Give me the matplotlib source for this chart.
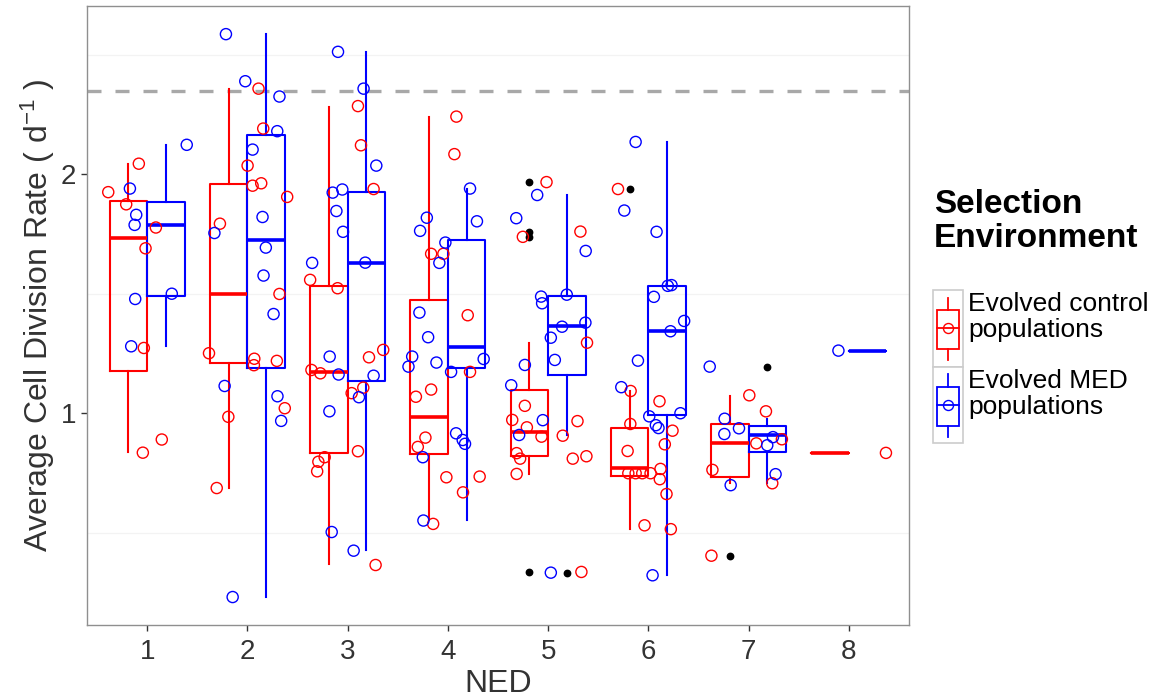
import numpy as np
import matplotlib
matplotlib.use("Agg")
import matplotlib.pyplot as plt
from matplotlib.legend_handler import HandlerBase
from matplotlib.lines import Line2D
from matplotlib.patches import Rectangle

plt.rcParams['font.family'] = ['Liberation Sans', 'DejaVu Sans']
plt.rcParams['mathtext.fontset'] = 'custom'
plt.rcParams['mathtext.rm'] = 'Liberation Sans'
plt.rcParams['mathtext.it'] = 'Liberation Sans:italic'

# ---------------------------------------------------------------- data
ned = [1, 2, 3, 4, 5, 6, 7, 8]
group_labels = ["Evolved control\npopulations", "Evolved MED\npopulations"]
reference_rate = 2.349

# box summaries per NED level (control populations)
ctrl_whislo = [0.838, 0.689, 0.368, 0.553, 0.746, 0.515, 0.710, 0.834]
ctrl_q1     = [1.178, 1.212, 0.834, 0.828, 0.820, 0.738, 0.735, 0.834]
ctrl_med    = [1.733, 1.499, 1.174, 0.986, 0.923, 0.770, 0.876, 0.834]
ctrl_q3     = [1.888, 1.958, 1.533, 1.474, 1.097, 0.940, 0.954, 0.834]
ctrl_whishi = [2.043, 2.357, 2.283, 2.241, 1.293, 1.095, 1.074, 0.834]
ctrl_outliers = [[], [], [], [], [1.967, 1.760, 1.738, 0.336], [1.938], [0.404], []]

# box summaries per NED level (MED populations)
med_whislo = [1.282, 0.233, 0.428, 0.553, 0.909, 0.323, 0.707, 1.262]
med_q1     = [1.492, 1.190, 1.135, 1.190, 1.159, 0.993, 0.838, 1.262]
med_med    = [1.788, 1.725, 1.630, 1.279, 1.365, 1.343, 0.908, 1.262]
med_q3     = [1.884, 2.162, 1.927, 1.725, 1.492, 1.534, 0.947, 1.262]
med_whishi = [2.121, 2.586, 2.512, 1.938, 1.911, 2.134, 0.975, 1.262]
med_outliers = [[], [], [], [], [0.333], [], [1.195], []]

# individual populations (jittered NED position, division rate)
ctrl_x = [0.612, 0.791, 0.917, 1.087, 0.984, 0.967, 0.957, 1.146,
          2.111, 2.158, 2.002, 2.052, 2.138, 2.397, 1.726, 2.320, 1.617, 1.810,
          1.694, 2.069, 2.065, 2.294, 2.373,
          2.626, 2.900, 3.103, 3.133, 3.259, 2.639, 2.728, 3.040, 3.156, 3.213,
          3.355, 2.771, 2.708, 2.696, 3.103, 3.279,
          4.085, 4.065, 3.833, 3.955, 4.198, 3.681, 3.833, 3.776, 3.700, 4.221,
          3.985, 4.317, 4.151, 3.853,
          4.984, 4.748, 5.322, 4.768, 4.642, 4.788, 4.934, 4.686, 4.721, 4.686,
          5.388, 5.293, 5.146, 5.246, 5.382, 5.332,
          5.697, 5.823, 5.820, 5.793, 5.800, 5.873, 5.939, 6.022, 6.111, 6.241,
          6.164, 6.121, 6.114, 6.181, 6.224, 5.962,
          7.007, 7.173, 6.639, 7.077, 7.332, 7.236, 6.629,
          8.370]
ctrl_y = [1.925, 1.874, 2.044, 1.777, 1.690, 1.273, 0.835, 0.890,
          2.358, 2.191, 2.036, 1.952, 1.962, 1.905, 1.793, 1.499, 1.251, 0.985,
          0.687, 1.228, 1.201, 1.219, 1.021,
          1.558, 1.523, 2.285, 2.121, 1.938, 1.181, 1.167, 1.084, 1.107, 1.234,
          1.265, 0.816, 0.797, 0.757, 0.841, 0.365,
          2.241, 2.084, 1.667, 1.667, 1.410, 1.069, 1.099, 0.898, 0.859, 1.173,
          0.732, 0.735, 0.669, 0.537,
          1.967, 1.738, 1.760, 1.031, 0.972, 0.941, 0.902, 0.833, 0.810, 0.746,
          1.295, 0.967, 0.906, 0.810, 0.820, 0.336,
          1.938, 1.093, 0.955, 0.842, 0.749, 0.749, 0.749, 0.749, 1.050, 0.927,
          0.870, 0.767, 0.724, 0.662, 0.515, 0.531,
          1.075, 1.008, 0.763, 0.874, 0.891, 0.707, 0.404,
          0.834]

med_x = [0.828, 0.891, 0.875, 0.881, 1.246, 1.395, 0.841,
         1.786, 1.979, 2.320, 2.298, 2.052, 2.151, 1.671, 2.184, 2.161, 2.261,
         1.773, 1.853, 2.300, 2.337,
         2.904, 3.159, 3.286, 2.851, 2.947, 2.888, 2.954, 2.646, 3.176, 2.821,
         2.910, 2.818, 3.259, 3.113, 2.841, 3.060,
         3.790, 3.723, 3.975, 3.915, 3.716, 4.221, 4.290, 3.803, 3.644, 3.607,
         3.886, 3.750, 3.756, 4.082, 4.148, 4.171, 4.032, 4.357,
         4.891, 4.682, 5.375, 4.930, 4.940, 5.186, 4.632, 4.768, 4.947, 4.711,
         5.139, 5.027, 5.372, 5.067, 5.027,
         5.873, 5.760, 6.082, 6.194, 6.231, 6.055, 5.730, 5.896, 6.221, 6.357,
         6.320, 6.009, 6.075, 6.101, 6.042,
         6.612, 6.761, 6.758, 6.904, 6.821, 7.186, 7.243, 7.269,
         7.896]
med_y = [1.940, 1.830, 1.788, 1.478, 1.500, 2.123, 1.280,
         2.586, 2.389, 2.325, 2.180, 2.103, 1.821, 1.754, 1.693, 1.576, 1.415,
         1.114, 0.231, 1.071, 0.968,
         2.512, 2.358, 2.036, 1.923, 1.936, 1.846, 1.759, 1.629, 1.630, 1.237,
         1.162, 1.008, 1.157, 1.067, 0.503, 0.425,
         1.818, 1.763, 1.714, 1.629, 1.421, 1.940, 1.803, 1.318, 1.237, 1.195,
         1.212, 0.816, 0.551, 0.916, 0.888, 0.872, 1.173, 1.227,
         1.913, 1.816, 1.679, 1.488, 1.460, 1.496, 1.117, 1.202, 0.971, 0.909,
         1.362, 1.316, 1.379, 1.223, 0.333,
         2.135, 1.848, 1.759, 1.533, 1.536, 1.487, 1.109, 1.220, 1.343, 1.386,
         1.000, 0.987, 0.950, 0.938, 0.322,
         1.195, 0.977, 0.913, 0.937, 0.699, 0.866, 0.900, 0.745,
         1.262]

# ---------------------------------------------------------------- styling
RED = "#ff0000"
BLUE = "#0000ff"
TXT = "#333333"
DODGE = 0.1875
BOX_W = 0.375

fig = plt.figure(figsize=(11.57, 6.99), dpi=100)
W, H = 1157, 699
ax = fig.add_axes([87 / W, 1 - 625 / H, (909 - 87) / W, (625 - 5.7) / H])

ax.set_xlim(0.4, 8.6)
ax.set_ylim(0.114, 2.705)

# faint minor grid
for yv in (0.5, 1.5, 2.5):
    ax.axhline(yv, color="#f3f3f3", lw=0.9, zorder=0)

ax.axhline(reference_rate, color="#a8a8a8", lw=2.4, ls=(0, (4.2, 4.2)), zorder=1.5)


def box_stats(lo, q1, med, q3, hi, outl):
    return [dict(whislo=a, q1=b, med=c, q3=d, whishi=e, fliers=np.array(f))
            for a, b, c, d, e, f in zip(lo, q1, med, q3, hi, outl)]


groups = [
    (RED, -DODGE, box_stats(ctrl_whislo, ctrl_q1, ctrl_med, ctrl_q3, ctrl_whishi, ctrl_outliers)),
    (BLUE, DODGE, box_stats(med_whislo, med_q1, med_med, med_q3, med_whishi, med_outliers)),
]
for color, off, stats in groups:
    ax.bxp(stats, positions=[n + off for n in ned], widths=BOX_W,
           showcaps=False, patch_artist=False, manage_ticks=False,
           boxprops=dict(color=color, linewidth=1.5),
           whiskerprops=dict(color=color, linewidth=1.5),
           medianprops=dict(color=color, linewidth=2.6, solid_capstyle="butt"),
           flierprops=dict(marker="o", markerfacecolor="black",
                           markeredgecolor="black", markersize=4.6,
                           linestyle="none"))

ax.scatter(ctrl_x, ctrl_y, s=64, facecolors="none", edgecolors=RED,
           linewidths=1.0, zorder=4)
ax.scatter(med_x, med_y, s=64, facecolors="none", edgecolors=BLUE,
           linewidths=1.0, zorder=4)

# axes decoration
ax.set_xticks(ned)
ax.set_xticklabels([str(n) for n in ned])
ax.set_yticks([1, 2])
ax.set_yticklabels(["1", "2"])
ax.tick_params(axis="both", direction="out", length=4, width=1.0,
               color=TXT, labelcolor=TXT, labelsize=20)
ax.tick_params(axis="x", pad=6)
ax.tick_params(axis="y", pad=4)
for sp in ax.spines.values():
    sp.set_color("#8f8f8f")
    sp.set_linewidth(1.0)

ax.set_xlabel("NED", fontsize=23, color=TXT)
ax.xaxis.set_label_coords(0.5, -0.071)
ax.set_ylabel(r"Average Cell Division Rate ( d$^{-1}$ )", fontsize=23, color=TXT)
ax.yaxis.set_label_coords(-0.037, 0.5)

KEY_SHIFT = 0.115  # key glyph sits a little below its label block


# legend key: small box-and-whisker glyph with a point
class BoxKey(HandlerBase):
    def create_artists(self, legend, orig_handle, xdescent, ydescent,
                       width, height, fontsize, trans):
        c = orig_handle.get_color()
        x0 = -xdescent
        y0 = -ydescent - KEY_SHIFT * height
        cx = x0 + width / 2
        cy = y0 + height / 2
        arts = [
            Rectangle((x0, y0), width, height, facecolor="white",
                      edgecolor="#cccccc", lw=1.2, transform=trans),
            Rectangle((x0 + 0.12 * width, y0 + 0.23 * height), 0.76 * width,
                      0.51 * height, facecolor="none", edgecolor=c, lw=1.3,
                      transform=trans),
            Line2D([cx, cx], [y0 + 0.08 * height, y0 + 0.23 * height],
                   color=c, lw=1.3, transform=trans),
            Line2D([cx, cx], [y0 + 0.74 * height, y0 + 0.90 * height],
                   color=c, lw=1.3, transform=trans),
            Line2D([x0 + 0.12 * width, x0 + 0.88 * width], [cy, cy],
                   color=c, lw=1.3, transform=trans),
            Line2D([cx], [cy], marker="o", markerfacecolor="none",
                   markeredgecolor=c, markersize=7.2, markeredgewidth=1.0,
                   linestyle="none", transform=trans),
        ]
        return arts


handles = [Line2D([], [], color=RED), Line2D([], [], color=BLUE)]
leg = fig.legend(handles, group_labels, loc="upper left",
                 bbox_to_anchor=(933 / W, 1 - 281 / H),
                 bbox_transform=fig.transFigure, frameon=False,
                 fontsize=19, handlelength=1.14, handleheight=4.1,
                 labelspacing=0.0, handletextpad=0.2, borderpad=0,
                 borderaxespad=0, handler_map={Line2D: BoxKey()})
for t in leg.get_texts():
    t.set_linespacing(1.12)
    t.set_color("black")

fig.text(934 / W, 1 - 189 / H, "Selection\nEnvironment", fontsize=24,
         fontweight="bold", ha="left", va="top", linespacing=1.12,
         color="black")

fig.savefig("out.png", dpi=100)
